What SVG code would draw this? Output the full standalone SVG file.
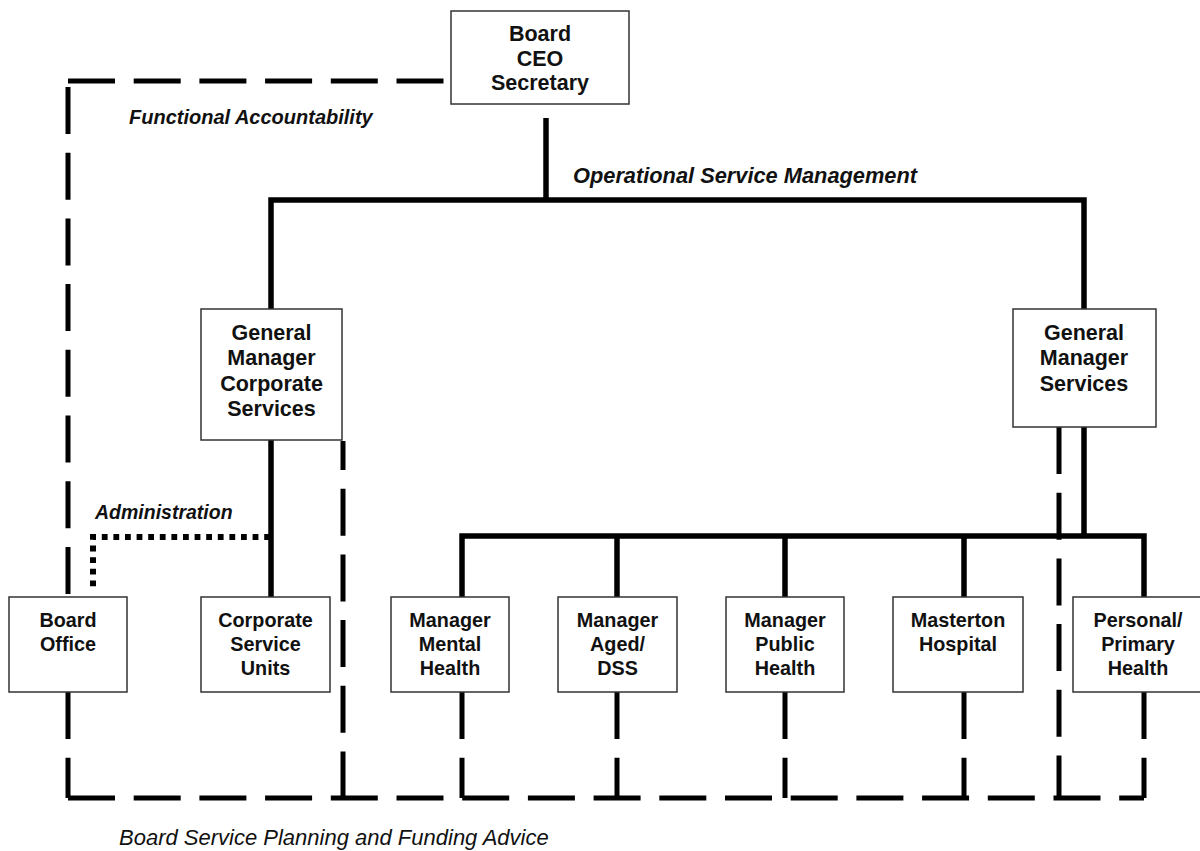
<svg xmlns="http://www.w3.org/2000/svg" width="1200" height="851" viewBox="0 0 1200 851">
  <style>
    .solid { fill: none; stroke: #000; stroke-width: 5.5; stroke-linejoin: miter; stroke-linecap: butt; }
    .dash { fill: none; stroke: #000; stroke-width: 5; stroke-dasharray: 47 18.7; stroke-linecap: butt; }
    .dot { fill: none; stroke: #000; stroke-width: 6; stroke-dasharray: 5.8 5.8; stroke-linecap: butt; }
    .box { fill: #fff; stroke: #333; stroke-width: 1.5; }
    .big { font-family: "Liberation Sans", Arial, sans-serif; font-weight: bold; font-size: 21.5px; fill: #111; text-anchor: middle; }
    .small { font-family: "Liberation Sans", Arial, sans-serif; font-weight: bold; font-size: 19.8px; fill: #111; text-anchor: middle; }
    .lbl { font-family: "Liberation Sans", Arial, sans-serif; font-weight: bold; font-style: italic; fill: #111; }
    .foot { font-family: "Liberation Sans", Arial, sans-serif; font-style: italic; font-size: 22px; fill: #111; }
  </style>
  <rect width="1200" height="851" fill="#fff"/>

  <g id="connectors">
    <!-- line management (solid) -->
    <path class="solid" d="M546,118 V200"/>
    <path class="solid" d="M271,309 V200 H1084 V309"/>
    <path class="solid" d="M271,440 V597"/>
    <path class="solid" d="M1084,427 V536"/>
    <path class="solid" d="M462,597 V536 H1144 V597"/>
    <path class="solid" d="M617,536 V597"/>
    <path class="solid" d="M785,536 V597"/>
    <path class="solid" d="M964,536 V597"/>

    <!-- functional accountability / planning advice (dashed) -->
    <path class="dash" d="M68,81 H449"/>
    <path class="dash" d="M68,87 V597"/>
    <path class="dash" d="M68,692 V798"/>
    <path class="dash" d="M68,798 H1144"/>
    <path class="dash" d="M343,441 V798" stroke-dashoffset="18"/>
    <path class="dash" d="M1059,427 V798"/>
    <path class="dash" d="M462,692 V798"/>
    <path class="dash" d="M617,692 V798"/>
    <path class="dash" d="M785,692 V798"/>
    <path class="dash" d="M964,692 V798"/>
    <path class="dash" d="M1144,692 V798"/>

    <!-- administration (dotted) -->
    <path class="dot" d="M270,537 H93 V592"/>

    <!-- connector labels -->
    <text class="lbl" x="129" y="124" font-size="20">Functional Accountability</text>
    <text class="lbl" x="573" y="183" font-size="21.8">Operational Service Management</text>
    <text class="lbl" x="95" y="519" font-size="19.5">Administration</text>
    <text class="foot" x="119" y="845">Board Service Planning and Funding Advice</text>
  </g>

  <g id="board-ceo">
    <rect class="box" x="451" y="11" width="178" height="93"/>
    <text class="big" x="540"><tspan x="540" y="41">Board</tspan><tspan x="540" y="65.5">CEO</tspan><tspan x="540" y="90">Secretary</tspan></text>
  </g>

  <g id="gm-corporate">
    <rect class="box" x="201" y="309" width="141" height="131"/>
    <text class="big"><tspan x="271.5" y="339.5">General</tspan><tspan x="271.5" y="365">Manager</tspan><tspan x="271.5" y="390.5">Corporate</tspan><tspan x="271.5" y="416">Services</tspan></text>
  </g>

  <g id="gm-services">
    <rect class="box" x="1013" y="309" width="143" height="118"/>
    <text class="big"><tspan x="1084" y="339.5">General</tspan><tspan x="1084" y="365">Manager</tspan><tspan x="1084" y="390.5">Services</tspan></text>
  </g>

  <g id="board-office">
    <rect class="box" x="9" y="597" width="118" height="95"/>
    <text class="small"><tspan x="68" y="627">Board</tspan><tspan x="68" y="651">Office</tspan></text>
  </g>

  <g id="corporate-service-units">
    <rect class="box" x="201" y="597" width="129" height="95"/>
    <text class="small"><tspan x="265.5" y="627">Corporate</tspan><tspan x="265.5" y="651">Service</tspan><tspan x="265.5" y="675">Units</tspan></text>
  </g>

  <g id="mental-health">
    <rect class="box" x="391" y="597" width="118" height="95"/>
    <text class="small"><tspan x="450" y="627">Manager</tspan><tspan x="450" y="651">Mental</tspan><tspan x="450" y="675">Health</tspan></text>
  </g>

  <g id="aged-dss">
    <rect class="box" x="558" y="597" width="119" height="95"/>
    <text class="small"><tspan x="617.5" y="627">Manager</tspan><tspan x="617.5" y="651">Aged/</tspan><tspan x="617.5" y="675">DSS</tspan></text>
  </g>

  <g id="public-health">
    <rect class="box" x="726" y="597" width="118" height="95"/>
    <text class="small"><tspan x="785" y="627">Manager</tspan><tspan x="785" y="651">Public</tspan><tspan x="785" y="675">Health</tspan></text>
  </g>

  <g id="masterton-hospital">
    <rect class="box" x="893" y="597" width="130" height="95"/>
    <text class="small"><tspan x="958" y="627">Masterton</tspan><tspan x="958" y="651">Hospital</tspan></text>
  </g>

  <g id="personal-primary-health">
    <rect class="box" x="1073" y="597" width="130" height="95"/>
    <text class="small"><tspan x="1138" y="627">Personal/</tspan><tspan x="1138" y="651">Primary</tspan><tspan x="1138" y="675">Health</tspan></text>
  </g>
</svg>
